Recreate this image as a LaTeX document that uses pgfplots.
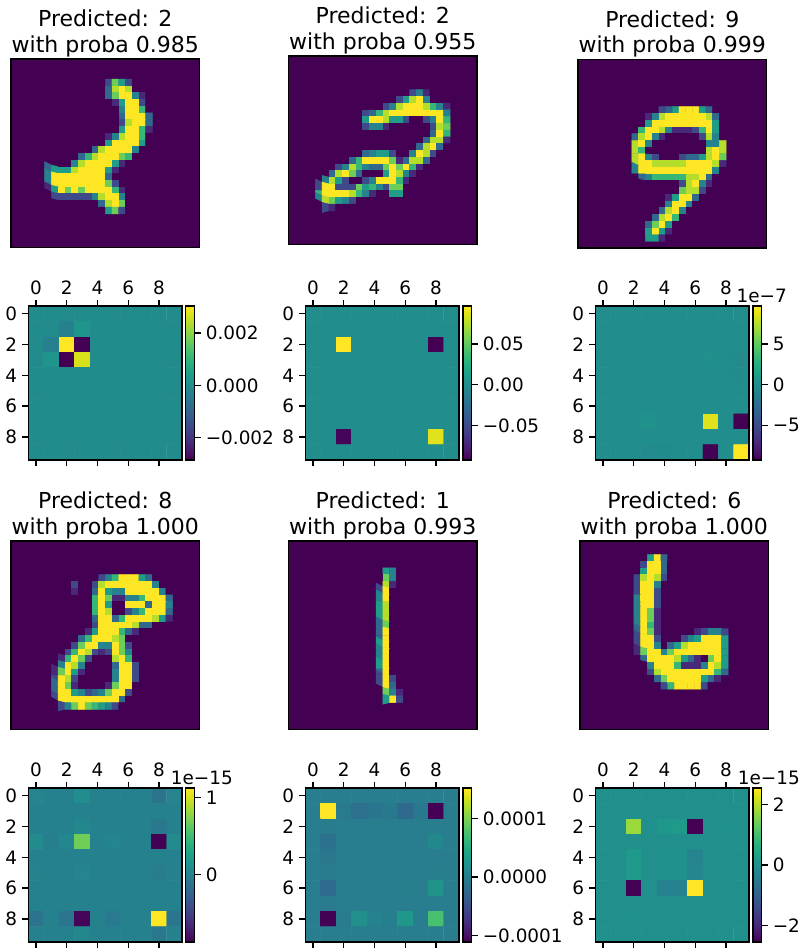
\documentclass[border=0pt]{standalone}
\usepackage{fontspec}
\setmainfont{DejaVu Sans}
\usepackage{pgfplots}
\pgfplotsset{compat=1.18}
\definecolor{vir0}{RGB}{68,1,84}
\newcommand{\tickfont}{\fontsize{18.4}{22}\selectfont}
\newcommand{\titlefont}{\fontsize{22}{25.4}\selectfont}
% 1pt in the file is 1px in the reference
\pgfplotsset{
  frame/.style={scale only axis, axis on top, axis line style={black,line width=1.4pt}},
  digit/.style={frame, anchor=north west, width=188.5pt, height=188.5pt,
    xmin=-0.5, xmax=27.5, ymin=-0.5, ymax=27.5, y dir=reverse,
    xtick=\empty, ytick=\empty, colormap/viridis, point meta min=0, point meta max=9,
    axis background/.style={fill=vir0},
    every axis title/.style={at={(0.5,1)},anchor=south,yshift=2pt,inner sep=0pt,align=center,font=\titlefont}},
  heat/.style={frame, anchor=north west, width=153.8pt, height=154pt,
    xmin=-0.5, xmax=9.5, ymin=-0.5, ymax=9.5, y dir=reverse, colormap/viridis,
    xtick={0,2,4,6,8}, ytick={0,2,4,6,8}, xticklabels={0,2,4,6,8}, yticklabels={0,2,4,6,8},
    xtick pos=both, xticklabel pos=top, ytick pos=left, tick align=outside,
    major tick length=6pt, every tick/.style={black,line width=1.4pt},
    tick label style={font=\tickfont,inner sep=0pt},
    xticklabel style={yshift=5pt}, yticklabel style={xshift=-5pt},
    colorbar shift/.style={xshift=3.8pt},
    colorbar, colorbar style={at={(parent axis.north east)}, anchor=north west,
      width=8.7pt, scaled y ticks=false, axis line style={black,line width=1.2pt},
      ytick pos=right, yticklabel pos=right, tick align=outside,
      major tick length=6pt, every tick/.style={black,line width=1.4pt},
      tick label style={font=\tickfont,inner sep=0pt}, yticklabel style={xshift=5pt}}},
  pix/.style={matrix plot*, point meta=\thisrowno{0}}
}
\begin{document}
\begin{tikzpicture}
\path[use as bounding box] (0,0) rectangle (801pt,-949pt);

% digit images: grey levels 0-9, rows of the drawn part of each 28x28 image; the rest is 0
\begin{axis}[digit, at={(11pt,-59pt)}, title={Predicted: 2\\with proba 0.985}]
\addplot[pix, mesh/cols=16] table[row sep=crcr, header=false, x expr={5+mod(\coordindex,16)}, y expr={3+floor(\coordindex/16)}] {
0\\0\\0\\0\\0\\0\\0\\0\\0\\2\\7\\5\\2\\0\\0\\0\\
0\\0\\0\\0\\0\\0\\0\\0\\0\\3\\8\\9\\8\\0\\0\\0\\
0\\0\\0\\0\\0\\0\\0\\0\\0\\3\\7\\9\\9\\4\\1\\0\\
0\\0\\0\\0\\0\\0\\0\\0\\0\\0\\1\\5\\9\\9\\2\\0\\
0\\0\\0\\0\\0\\0\\0\\0\\0\\0\\0\\4\\9\\9\\6\\0\\
0\\0\\0\\0\\0\\0\\0\\0\\0\\0\\0\\3\\9\\9\\9\\3\\
0\\0\\0\\0\\0\\0\\0\\0\\0\\0\\0\\2\\8\\9\\9\\3\\
0\\0\\0\\0\\0\\0\\0\\0\\0\\0\\0\\5\\9\\9\\6\\1\\
0\\0\\0\\0\\0\\0\\0\\0\\0\\1\\4\\8\\9\\9\\6\\0\\
0\\0\\0\\0\\0\\0\\0\\0\\0\\5\\9\\9\\9\\9\\5\\0\\
0\\0\\0\\0\\0\\0\\0\\3\\8\\9\\9\\9\\9\\4\\0\\0\\
0\\0\\0\\0\\0\\3\\6\\8\\9\\9\\9\\7\\6\\0\\0\\0\\
0\\0\\0\\0\\4\\8\\9\\9\\9\\9\\5\\1\\0\\0\\0\\0\\
3\\5\\5\\5\\8\\9\\9\\9\\9\\5\\1\\0\\0\\0\\0\\0\\
4\\9\\9\\9\\9\\9\\9\\9\\9\\3\\0\\0\\0\\0\\0\\0\\
4\\9\\9\\9\\9\\9\\9\\9\\9\\7\\2\\0\\0\\0\\0\\0\\
1\\5\\9\\7\\9\\7\\9\\9\\9\\9\\6\\1\\0\\0\\0\\0\\
0\\2\\2\\2\\2\\2\\2\\4\\8\\9\\9\\4\\0\\0\\0\\0\\
0\\0\\0\\0\\0\\0\\0\\0\\3\\8\\9\\7\\0\\0\\0\\0\\
0\\0\\0\\0\\0\\0\\0\\0\\0\\5\\7\\2\\0\\0\\0\\0\\
};
\end{axis}

\begin{axis}[digit, at={(288.5pt,-56pt)}, title={Predicted: 2\\with proba 0.955}]
\addplot[pix, mesh/cols=20] table[row sep=crcr, header=false, x expr={4+mod(\coordindex,20)}, y expr={5+floor(\coordindex/20)}] {
0\\0\\0\\0\\0\\0\\0\\0\\0\\0\\0\\0\\0\\0\\2\\4\\1\\0\\0\\0\\
0\\0\\0\\0\\0\\0\\0\\0\\0\\0\\0\\0\\2\\5\\8\\9\\4\\0\\0\\0\\
0\\0\\0\\0\\0\\0\\0\\0\\0\\0\\2\\4\\8\\9\\9\\9\\8\\6\\4\\1\\
0\\0\\0\\0\\0\\0\\0\\2\\3\\6\\8\\9\\9\\9\\9\\9\\9\\9\\9\\4\\
0\\0\\0\\0\\0\\0\\0\\5\\9\\9\\8\\5\\5\\2\\0\\0\\2\\4\\9\\6\\
0\\0\\0\\0\\0\\0\\0\\2\\4\\4\\1\\0\\0\\0\\0\\0\\0\\2\\8\\7\\
0\\0\\0\\0\\0\\0\\0\\0\\0\\0\\0\\0\\0\\0\\0\\0\\0\\3\\9\\6\\
0\\0\\0\\0\\0\\0\\0\\0\\0\\0\\0\\0\\0\\0\\0\\0\\3\\8\\8\\1\\
0\\0\\0\\0\\0\\0\\0\\0\\0\\0\\0\\0\\0\\0\\0\\3\\8\\9\\3\\0\\
0\\0\\0\\0\\0\\0\\0\\3\\4\\5\\5\\2\\0\\0\\4\\9\\8\\2\\0\\0\\
0\\0\\0\\0\\0\\3\\6\\9\\9\\9\\9\\7\\1\\3\\8\\8\\3\\0\\0\\0\\
0\\0\\0\\2\\4\\8\\6\\4\\3\\3\\7\\9\\7\\9\\6\\1\\0\\0\\0\\0\\
0\\0\\3\\8\\9\\7\\3\\0\\0\\0\\5\\9\\8\\4\\1\\0\\0\\0\\0\\0\\
0\\4\\8\\5\\2\\0\\0\\2\\4\\9\\9\\9\\6\\1\\0\\0\\0\\0\\0\\0\\
2\\9\\9\\2\\2\\2\\7\\5\\6\\4\\2\\7\\7\\0\\0\\0\\0\\0\\0\\0\\
6\\9\\9\\9\\9\\8\\6\\4\\1\\0\\0\\5\\5\\0\\0\\0\\0\\0\\0\\0\\
4\\8\\7\\5\\4\\2\\0\\0\\0\\0\\0\\0\\0\\0\\0\\0\\0\\0\\0\\0\\
0\\2\\1\\0\\0\\0\\0\\0\\0\\0\\0\\0\\0\\0\\0\\0\\0\\0\\0\\0\\
};
\end{axis}

\begin{axis}[digit, at={(578pt,-59.5pt)}, title={Predicted: 9\\with proba 0.999}]
\addplot[pix, mesh/cols=14] table[row sep=crcr, header=false, x expr={8+mod(\coordindex,14)}, y expr={7+floor(\coordindex/14)}] {
0\\0\\0\\0\\2\\3\\5\\9\\9\\9\\5\\3\\0\\0\\
0\\0\\1\\4\\8\\9\\9\\9\\9\\9\\9\\8\\3\\0\\
0\\0\\5\\9\\9\\9\\9\\9\\9\\9\\9\\9\\5\\0\\
0\\6\\9\\9\\8\\4\\1\\1\\1\\2\\6\\9\\5\\0\\
3\\8\\9\\4\\1\\0\\0\\0\\0\\0\\2\\8\\4\\0\\
8\\9\\4\\0\\0\\0\\0\\0\\0\\0\\0\\4\\4\\8\\
8\\6\\0\\0\\0\\0\\0\\0\\0\\0\\0\\8\\9\\8\\
8\\9\\4\\2\\0\\0\\0\\2\\3\\3\\5\\8\\9\\7\\
8\\9\\9\\8\\8\\8\\8\\8\\9\\9\\9\\9\\8\\1\\
4\\9\\9\\9\\9\\9\\9\\9\\9\\9\\9\\9\\4\\0\\
0\\3\\4\\6\\6\\6\\6\\6\\8\\8\\9\\3\\0\\0\\
0\\0\\0\\0\\0\\0\\0\\2\\8\\9\\4\\1\\0\\0\\
0\\0\\0\\0\\0\\0\\0\\7\\8\\8\\2\\0\\0\\0\\
0\\0\\0\\0\\0\\1\\5\\9\\9\\3\\0\\0\\0\\0\\
0\\0\\0\\0\\0\\4\\9\\9\\4\\0\\0\\0\\0\\0\\
0\\0\\0\\0\\3\\8\\9\\4\\0\\0\\0\\0\\0\\0\\
0\\0\\0\\3\\8\\9\\6\\0\\0\\0\\0\\0\\0\\0\\
0\\0\\3\\7\\9\\5\\0\\0\\0\\0\\0\\0\\0\\0\\
0\\0\\5\\9\\5\\1\\0\\0\\0\\0\\0\\0\\0\\0\\
0\\0\\5\\5\\1\\0\\0\\0\\0\\0\\0\\0\\0\\0\\
};
\end{axis}

\begin{axis}[digit, at={(11pt,-541pt)}, title={Predicted: 8\\with proba 1.000}]
\addplot[pix, mesh/cols=18] table[row sep=crcr, header=false, x expr={6+mod(\coordindex,18)}, y expr={5+floor(\coordindex/18)}] {
0\\0\\0\\0\\0\\0\\0\\2\\4\\6\\9\\9\\9\\5\\3\\0\\0\\0\\
0\\0\\0\\2\\0\\0\\2\\8\\9\\9\\9\\9\\9\\9\\9\\4\\0\\0\\
0\\0\\0\\1\\0\\0\\3\\9\\5\\4\\4\\9\\9\\9\\9\\9\\4\\0\\
0\\0\\0\\0\\0\\0\\6\\9\\7\\1\\1\\4\\4\\6\\9\\9\\9\\3\\
0\\0\\0\\0\\0\\0\\6\\9\\5\\0\\0\\9\\9\\9\\3\\9\\9\\4\\
0\\0\\0\\0\\0\\0\\6\\9\\8\\0\\0\\2\\4\\6\\9\\9\\9\\3\\
0\\0\\0\\0\\0\\0\\3\\9\\9\\3\\6\\9\\9\\9\\9\\8\\5\\1\\
0\\0\\0\\0\\0\\0\\2\\9\\9\\9\\9\\9\\8\\3\\3\\0\\0\\0\\
0\\0\\0\\0\\0\\1\\5\\9\\9\\9\\6\\3\\1\\0\\0\\0\\0\\0\\
0\\0\\0\\0\\3\\6\\9\\9\\9\\8\\7\\0\\0\\0\\0\\0\\0\\0\\
0\\0\\0\\2\\7\\9\\9\\4\\4\\9\\7\\2\\0\\0\\0\\0\\0\\0\\
0\\0\\2\\6\\9\\8\\2\\1\\2\\9\\7\\4\\0\\0\\0\\0\\0\\0\\
0\\1\\6\\9\\7\\2\\0\\0\\0\\8\\9\\6\\0\\0\\0\\0\\0\\0\\
0\\4\\9\\8\\4\\0\\0\\0\\0\\3\\9\\9\\2\\0\\0\\0\\0\\0\\
1\\7\\9\\5\\1\\0\\0\\0\\0\\4\\9\\9\\2\\0\\0\\0\\0\\0\\
2\\9\\8\\2\\0\\0\\0\\0\\0\\4\\9\\9\\2\\0\\0\\0\\0\\0\\
3\\9\\7\\1\\0\\0\\0\\0\\1\\7\\9\\9\\0\\0\\0\\0\\0\\0\\
3\\9\\9\\5\\4\\2\\3\\4\\7\\9\\9\\2\\0\\0\\0\\0\\0\\0\\
2\\9\\9\\9\\9\\9\\9\\9\\9\\9\\3\\0\\0\\0\\0\\0\\0\\0\\
0\\2\\4\\7\\9\\7\\6\\5\\4\\2\\0\\0\\0\\0\\0\\0\\0\\0\\
};
\end{axis}

\begin{axis}[digit, at={(288.5pt,-541pt)}, title={Predicted: 1\\with proba 0.993}]
\addplot[pix, mesh/cols=4] table[row sep=crcr, header=false, x expr={13+mod(\coordindex,4)}, y expr={4+floor(\coordindex/4)}] {
0\\5\\4\\0\\
0\\7\\4\\0\\
0\\8\\1\\0\\
2\\9\\0\\0\\
4\\9\\0\\0\\
5\\8\\0\\0\\
5\\8\\0\\0\\
5\\8\\0\\0\\
3\\7\\0\\0\\
3\\9\\0\\0\\
3\\9\\0\\0\\
5\\9\\0\\0\\
4\\9\\0\\0\\
4\\9\\0\\0\\
5\\9\\0\\0\\
3\\9\\0\\0\\
2\\9\\2\\0\\
2\\9\\3\\0\\
0\\7\\4\\1\\
0\\5\\9\\2\\
};
\end{axis}

\begin{axis}[digit, at={(580pt,-541pt)}, title={Predicted: 6\\with proba 1.000}]
\addplot[pix, mesh/cols=14] table[row sep=crcr, header=false, x expr={8+mod(\coordindex,14)}, y expr={2+floor(\coordindex/14)}] {
0\\0\\5\\9\\3\\0\\0\\0\\0\\0\\0\\0\\0\\0\\
0\\2\\9\\9\\3\\0\\0\\0\\0\\0\\0\\0\\0\\0\\
0\\5\\9\\9\\3\\0\\0\\0\\0\\0\\0\\0\\0\\0\\
2\\8\\9\\8\\2\\0\\0\\0\\0\\0\\0\\0\\0\\0\\
2\\9\\9\\4\\0\\0\\0\\0\\0\\0\\0\\0\\0\\0\\
2\\9\\9\\2\\0\\0\\0\\0\\0\\0\\0\\0\\0\\0\\
4\\9\\9\\2\\0\\0\\0\\0\\0\\0\\0\\0\\0\\0\\
4\\9\\9\\2\\0\\0\\0\\0\\0\\0\\0\\0\\0\\0\\
4\\9\\7\\1\\0\\0\\0\\0\\0\\0\\0\\0\\0\\0\\
4\\9\\7\\1\\0\\0\\0\\0\\0\\0\\0\\0\\0\\0\\
4\\9\\6\\1\\0\\0\\0\\0\\0\\0\\0\\0\\0\\0\\
3\\9\\7\\1\\0\\0\\0\\0\\0\\1\\2\\4\\4\\2\\
2\\9\\9\\2\\0\\0\\0\\2\\4\\5\\9\\9\\9\\5\\
2\\9\\9\\4\\0\\3\\5\\8\\9\\9\\9\\9\\9\\5\\
1\\7\\9\\9\\4\\7\\9\\9\\9\\9\\9\\9\\9\\5\\
0\\3\\9\\9\\9\\9\\8\\5\\3\\1\\0\\7\\9\\5\\
0\\0\\4\\9\\9\\9\\6\\1\\1\\1\\4\\9\\8\\5\\
0\\0\\2\\8\\9\\9\\9\\9\\9\\9\\9\\9\\6\\3\\
0\\0\\0\\3\\7\\9\\9\\9\\9\\9\\5\\3\\1\\0\\
0\\0\\0\\0\\2\\6\\9\\9\\9\\9\\2\\0\\0\\0\\
};
\end{axis}

% attention matrices, 10x10
\begin{axis}[heat, at={(28.3pt,-306pt)}, point meta min=-0.00286, point meta max=0.00304,
  colorbar style={ytick={-0.002,0,0.002}, yticklabels={−0.002,0.000,0.002}}]
\addplot[pix, mesh/cols=10] table[row sep=crcr, header=false, x expr={mod(\coordindex,10)}, y expr={floor(\coordindex/10)}] {
0\\0\\0\\0\\0\\0\\0\\0\\0\\0\\
0\\0\\-0.0003\\0.0002\\0\\0\\0\\0\\0\\0\\
0\\-0.0003\\0.00304\\-0.00286\\0\\0\\0\\0\\0\\0\\
0\\0.0002\\-0.00286\\0.0027\\0\\0\\0\\0\\0\\0\\
0\\0\\0\\0\\0\\0\\0\\0\\0\\0\\
0\\0\\0\\0\\0\\0\\0\\0\\0\\0\\
0\\0\\0\\0\\0\\0\\0\\0\\0\\0\\
0\\0\\0\\0\\0\\0\\0\\0\\0\\0\\
0\\0\\0\\0\\0\\0\\0\\0\\0\\0\\
0\\0\\0\\0\\0\\0\\0\\0\\0\\0\\
};
\end{axis}

\begin{axis}[heat, at={(305.3pt,-306pt)}, point meta min=-0.0926, point meta max=0.0967,
  colorbar style={ytick={-0.05,0,0.05}, yticklabels={−0.05,0.00,0.05}}]
\addplot[pix, mesh/cols=10] table[row sep=crcr, header=false, x expr={mod(\coordindex,10)}, y expr={floor(\coordindex/10)}] {
0\\0\\0\\0\\0\\0\\0\\0\\0\\0\\
0\\0\\0\\0\\0\\0\\0\\0\\0\\0\\
0\\0\\0.0967\\0\\0\\0\\0\\0\\-0.0926\\0\\
0\\0\\0\\0\\0\\0\\0\\0\\0\\0\\
0\\0\\0\\0\\0\\0\\0\\0\\0\\0\\
0\\0\\0\\0\\0\\0\\0\\0\\0\\0\\
0\\0\\0\\0\\0\\0\\0\\0\\0\\0\\
0\\0\\0\\0\\0\\0\\0\\0\\0\\0\\
0\\0\\-0.09\\0\\0\\0\\0\\0\\0.088\\0\\
0\\0\\0\\0\\0\\0\\0\\0\\0\\0\\
};
\end{axis}

% values below are in units of 1e-7
\begin{axis}[heat, at={(595.3pt,-306pt)}, point meta min=-9.26, point meta max=9.67,
  colorbar style={ytick={-5,0,5}, yticklabels={−5,0,5}}]
\addplot[pix, mesh/cols=10] table[row sep=crcr, header=false, x expr={mod(\coordindex,10)}, y expr={floor(\coordindex/10)}] {
0\\0\\0\\0\\0\\0\\0\\0\\0\\0\\
0\\0\\0\\0\\0\\0\\0\\0\\0\\0\\
0\\0\\0\\0\\0\\0\\0\\0\\0\\0\\
0\\0\\0\\0\\0\\0\\0\\0.2\\0\\-0.2\\
0\\0\\0\\0\\0\\0\\0\\0\\0\\-0.1\\
0\\0\\0\\0\\0\\0\\0\\0\\0\\0\\
0\\0\\0\\0\\0\\0\\0\\0\\0\\0\\
0\\0\\0\\0.3\\0\\0\\0\\8.8\\0\\-9.26\\
0\\0\\0\\0\\0\\0\\0\\0\\0\\0\\
0\\0\\0\\-0.2\\-0.1\\0\\0\\-9.2\\0\\9.67\\
};
\end{axis}

% values below are in units of 1e-15
\begin{axis}[heat, at={(28.3pt,-788pt)}, point meta min=-0.882, point meta max=1.127,
  colorbar style={ytick={0,1}, yticklabels={0,1}}]
\addplot[pix, mesh/cols=10] table[row sep=crcr, header=false, x expr={mod(\coordindex,10)}, y expr={floor(\coordindex/10)}] {
0.02\\0\\0\\0.1\\0\\0\\0\\0\\-0.12\\0.02\\
0\\0\\0\\0\\0\\0\\0\\0\\0\\0\\
0\\0\\0\\0.05\\0\\0\\0\\0\\-0.08\\0\\
0.08\\-0.02\\0.04\\0.685\\0\\0.03\\0\\0\\-0.88\\0.07\\
0\\0\\0\\0\\0\\0\\0\\0\\0\\0\\
0.01\\0\\0\\0.02\\0\\0\\0\\0\\-0.05\\0\\
0\\0\\0\\0\\0\\0\\0\\0\\0\\0\\
0\\0\\0\\0\\0\\0\\0\\0\\0\\0\\
-0.12\\0\\-0.1\\-0.86\\0\\-0.06\\0\\0\\1.127\\-0.1\\
0\\0\\0\\0.05\\0\\0\\0\\0\\-0.08\\0\\
};
\end{axis}

\begin{axis}[heat, at={(305.3pt,-788pt)}, point meta min=-1.109, point meta max=1.52,
  colorbar style={ytick={-1,0,1}, yticklabels={−0.0001,0.0000,0.0001}}]
% units of 1e-4
\addplot[pix, mesh/cols=10] table[row sep=crcr, header=false, x expr={mod(\coordindex,10)}, y expr={floor(\coordindex/10)}] {
0\\0\\0\\0\\0\\0\\0\\0\\0\\0\\
0\\1.52\\-0.04\\-0.15\\-0.1\\-0.05\\-0.22\\-0.05\\-1.109\\0\\
0\\-0.01\\0\\0\\0\\0\\0\\0\\0\\0\\
0\\-0.12\\0\\0\\0\\0\\0\\0\\0.12\\0\\
0\\-0.07\\0\\0\\0\\0\\0\\0\\0\\0\\
0\\-0.03\\0\\0\\0\\0\\0\\0\\0.02\\0\\
0\\-0.2\\0\\0\\0\\0\\0.02\\0\\0.25\\0\\
0\\-0.04\\0\\0\\0\\0\\0\\0\\0\\0\\
0\\-1.1\\-0.02\\0.2\\0.05\\0.02\\0.28\\0\\0.75\\0\\
0\\0\\0\\0\\0\\0\\0\\0\\0\\0\\
};
\end{axis}

% values below are in units of 1e-15
\begin{axis}[heat, at={(595.3pt,-788pt)}, point meta min=-2.54, point meta max=2.54,
  colorbar style={ytick={-2,0,2}, yticklabels={−2,0,2}}]
\addplot[pix, mesh/cols=10] table[row sep=crcr, header=false, x expr={mod(\coordindex,10)}, y expr={floor(\coordindex/10)}] {
0\\0\\0\\0\\0\\0\\0\\0\\0\\0\\
0\\0\\0\\0\\0\\0\\0\\0\\0\\0\\
0\\0\\1.78\\0\\0.15\\0.2\\-2.54\\0\\0.03\\0\\
0\\0\\0\\0\\0\\0\\0\\0\\0\\0\\
0\\0\\0.2\\0\\0.03\\0.03\\-0.25\\0\\0\\0\\
0\\0\\0.2\\0\\0.02\\0.03\\-0.22\\0\\0\\0\\
0\\0\\-2.54\\0\\-0.3\\-0.3\\2.54\\0\\0\\0\\
0\\0\\0\\0\\0\\0\\0\\0\\0\\0\\
0\\0\\0.03\\0\\0\\0\\0\\0\\0\\0\\
0\\0\\0\\0\\0\\0\\0\\0\\0\\0\\
};
\end{axis}

% colorbar multipliers
\node[font=\tickfont,anchor=base east,inner sep=0pt] at (787pt,-302pt) {1e−7};
\node[font=\tickfont,anchor=base east,inner sep=0pt] at (233pt,-784pt) {1e−15};
\node[font=\tickfont,anchor=base east,inner sep=0pt] at (800pt,-784pt) {1e−15};
\end{tikzpicture}
\end{document}
